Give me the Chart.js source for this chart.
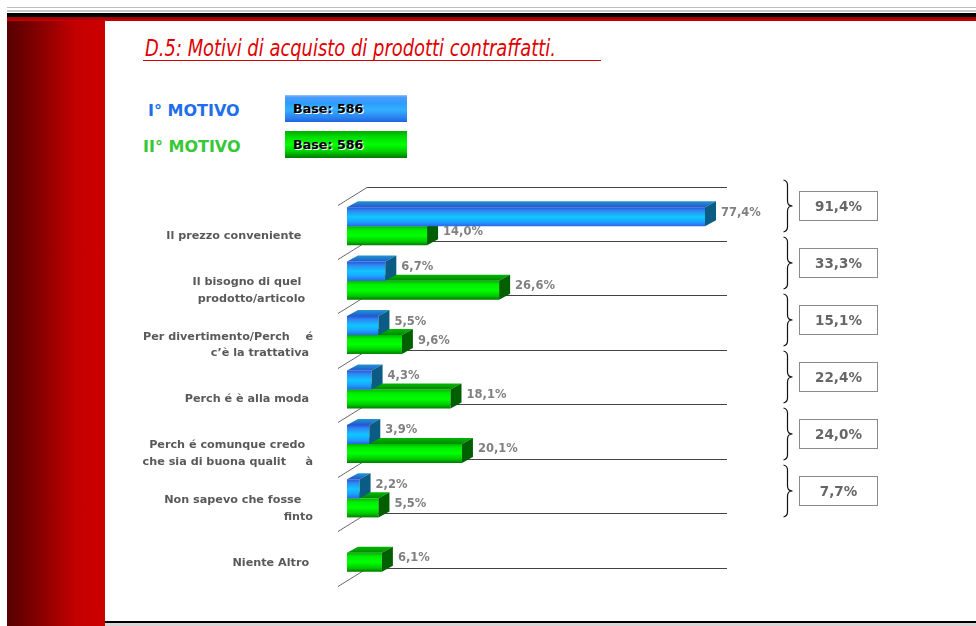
<!DOCTYPE html>
<html lang="it">
<head>
<meta charset="utf-8">
<title>D.5: Motivi di acquisto di prodotti contraffatti</title>
<script src="https://cdn.jsdelivr.net/npm/chart.js@4.4.1/dist/chart.umd.min.js"></script>
<style>
  body { margin: 0; width: 976px; height: 626px; overflow: hidden; background: #fff; position: relative; font-family: "DejaVu Sans", sans-serif; }
  .abs { position: absolute; }
  .fascia { position: absolute; left: 7px; right: 0; }
  #pannello { left: 7px; top: 21px; width: 98px; height: 605px; background: linear-gradient(to right, #560000 0%, #8a0000 35%, #c40000 70%, #cc0000 100%); }
  #titolo { left: 145px; top: 37px; font: italic 23px/23px "DejaVu Sans", sans-serif; color: #e00000; white-space: nowrap; transform-origin: 0 0; }
  #sottolinea { left: 143px; top: 60px; width: 458px; height: 1px; background: #d00000; }
  .motivo { font: bold 16px/16px "DejaVu Sans", sans-serif; white-space: nowrap; }
  .base { width: 122px; height: 27px; box-sizing: border-box; padding-left: 8px; font: bold 12.7px/27px "DejaVu Sans", sans-serif; color: #000; text-shadow: 1px 1px 0 #fff; }
  #baseBlu { left: 285px; top: 95px; background: linear-gradient(#9cc4ff 0%, #4a9cff 8%, #2f9cff 30%, #33b0ff 55%, #2a80f0 85%, #1f62e0 100%); }
  #baseVerde { left: 285px; top: 131px; background: linear-gradient(#00a800 0%, #00d800 20%, #00ff00 50%, #00d000 75%, #007c00 100%); }
  #grafico { position: absolute; left: 0; top: 0; }
</style>
</head>
<body>
<div class="fascia" style="top:7px;height:1px;background:#bdbdbd"></div>
<div class="fascia" style="top:10px;height:2px;background:#c8c8c8"></div>
<div class="fascia" style="top:13px;height:4px;background:#000"></div>
<div class="fascia" style="top:17px;height:4px;background:linear-gradient(#9a0000,#cc0000)"></div>
<div id="pannello" class="abs"></div>
<div class="abs" style="left:105px;top:621px;width:871px;height:2px;background:#000"></div>
<div class="abs" style="left:105px;top:623px;width:871px;height:3px;background:#d6d6d6"></div>

<div id="titolo" class="abs">D.5: Motivi di acquisto di prodotti contraffatti.</div>
<div id="sottolinea" class="abs"></div>

<div class="abs motivo" style="left:148px;top:103px;color:#1f6fea">I° MOTIVO</div>
<div class="abs motivo" style="left:143px;top:139px;color:#36c836">II° MOTIVO</div>
<div id="baseBlu" class="abs base">Base: 586</div>
<div id="baseVerde" class="abs base">Base: 586</div>

<canvas id="grafico" width="976" height="626"></canvas>

<script>
// Dati del grafico
const motivi = [
    "Il prezzo conveniente   ",
    ["Il bisogno di quel   ", "prodotto/articolo  "],
    ["Per divertimento/Perch    é", "c\u2019è la trattativa "],
    "Perch é è alla moda ",
    ["Perch é comunque credo  ", "che sia di buona qualit     à"],
    ["Non sapevo che fosse   ", "finto"],
    "Niente Altro "
];
const primoMotivo = [77.4, 6.7, 5.5, 4.3, 3.9, 2.2, null];
const secondoMotivo = [14.0, 26.6, 9.6, 18.1, 20.1, 5.5, 6.1];
const totali = [91.4, 33.3, 15.1, 22.4, 24.0, 7.7];

const grafico = document.querySelector("#grafico");
const titolo = document.querySelector("#titolo");

// Adattare il titolo alla larghezza originale
titolo.style.transform = `scaleX(${411 / titolo.getBoundingClientRect().width})`;

// Profondità dell'effetto 3D
const PROF_X = 11;
const PROF_Y = 6;

const stopBlu = [[0, "#2556d6"], [0.18, "#2f86f2"], [0.5, "#10c6ff"], [0.75, "#1aa6ff"], [1, "#2c66ea"]];
const stopVerde = [[0, "#00b400"], [0.2, "#00ee00"], [0.5, "#00ff00"], [0.8, "#00c800"], [1, "#007a00"]];

const formato = (v) => v.toFixed(1).replace(".", ",") + "%";

// Gradiente della faccia frontale di ogni barra
const gradiente = (ctx, stops) => {
    const { chart, dataIndex, datasetIndex } = ctx;
    const area = chart.chartArea;
    if (!area || dataIndex === undefined) return stops[2][1];
    const banda = area.height / motivi.length;
    const spessore = banda * 0.7 / 2;
    const centro = chart.scales.y.getPixelForValue(dataIndex);
    const alto = datasetIndex === 0 ? centro - spessore : centro;
    const g = chart.ctx.createLinearGradient(0, alto, 0, alto + spessore);
    stops.forEach(([p, c]) => g.addColorStop(p, c));
    return g;
};

// Plugin per pavimento, facce 3D, etichette e totali
const effetto3d = {
    id: "effetto3d",
    beforeDatasetsDraw(chart) {
        const { ctx, chartArea: a } = chart;
        const banda = a.height / motivi.length;
        ctx.save();
        ctx.lineWidth = 1;
        for (let i = 0; i <= motivi.length; i++) {
            const yf = Math.round(a.top + i * banda + 5.5) + 0.5;
            const yb = yf - 18;
            ctx.strokeStyle = "#6a6a6a";
            ctx.beginPath(); ctx.moveTo(a.left - 9, yf); ctx.lineTo(a.left + 20, yb); ctx.stroke();
            ctx.strokeStyle = "#444";
            ctx.beginPath(); ctx.moveTo(a.left + 20, yb); ctx.lineTo(a.right + 22, yb); ctx.stroke();
        }
        ctx.restore();
    },
    afterDatasetDraw(chart, args) {
        const { ctx, chartArea: a } = chart;
        const blu = args.index === 0;
        const valori = chart.data.datasets[args.index].data;
        ctx.save();
        args.meta.data.forEach((bar, i) => {
            if (valori[i] == null) return;
            const { x, y, base, height } = bar.getProps(["x", "y", "base", "height"], true);
            const x1 = Math.min(x, a.right);
            const top = y - height / 2;
            const bot = y + height / 2;
            // Faccia superiore
            const gTop = ctx.createLinearGradient(0, top - PROF_Y, 0, top);
            gTop.addColorStop(0, blu ? "#1e98cc" : "#00b800");
            gTop.addColorStop(1, blu ? "#2456d2" : "#008800");
            ctx.fillStyle = gTop;
            ctx.beginPath();
            ctx.moveTo(base, top);
            ctx.lineTo(base + PROF_X, top - PROF_Y);
            ctx.lineTo(x1 + PROF_X, top - PROF_Y);
            ctx.lineTo(x1, top);
            ctx.closePath();
            ctx.fill();
            // Faccia laterale
            ctx.fillStyle = blu ? "#0b5c84" : "#006000";
            ctx.beginPath();
            ctx.moveTo(x1, top);
            ctx.lineTo(x1 + PROF_X, top - PROF_Y);
            ctx.lineTo(x1 + PROF_X, bot - PROF_Y);
            ctx.lineTo(x1, bot);
            ctx.closePath();
            ctx.fill();
        });
        ctx.restore();
    },
    afterDatasetsDraw(chart) {
        const { ctx, chartArea: a } = chart;
        ctx.save();
        ctx.font = "bold 11.5px 'DejaVu Sans'";
        ctx.fillStyle = "#808080";
        ctx.textBaseline = "middle";
        ctx.textAlign = "left";
        chart.data.datasets.forEach((ds, d) => {
            chart.getDatasetMeta(d).data.forEach((bar, i) => {
                if (ds.data[i] == null) return;
                const x1 = Math.min(bar.x, a.right);
                ctx.fillText(formato(ds.data[i]), x1 + PROF_X + 5, bar.y - 4);
            });
        });
        ctx.restore();
    },
    afterDraw(chart) {
        const { ctx, chartArea: a } = chart;
        const bx = a.right + 82.5;
        const h = 26;
        ctx.save();
        totali.forEach((t, i) => {
            const yc = Math.round(a.top + 6.5 + i * 57);
            // Parentesi graffa
            ctx.strokeStyle = "#111";
            ctx.lineWidth = 1.2;
            ctx.beginPath();
            ctx.moveTo(bx - 4, yc - h);
            ctx.quadraticCurveTo(bx, yc - h + 1, bx, yc - h + 5);
            ctx.lineTo(bx, yc - 5);
            ctx.quadraticCurveTo(bx, yc, bx + 5, yc);
            ctx.quadraticCurveTo(bx, yc, bx, yc + 5);
            ctx.lineTo(bx, yc + h - 5);
            ctx.quadraticCurveTo(bx, yc + h - 1, bx - 4, yc + h);
            ctx.stroke();
            // Riquadro del totale
            ctx.fillStyle = "#fff";
            ctx.fillRect(bx + 12, yc - 14.5, 78, 29);
            ctx.strokeStyle = "#8a8a8a";
            ctx.lineWidth = 1;
            ctx.strokeRect(bx + 12, yc - 14.5, 78, 29);
            ctx.fillStyle = "#666";
            ctx.font = "bold 13.5px 'DejaVu Sans'";
            ctx.textAlign = "center";
            ctx.textBaseline = "middle";
            ctx.fillText(formato(t), bx + 51, yc + 1);
        });
        ctx.restore();
    }
};

// Creare il grafico
const miGrafico = new Chart(grafico, {
    type: "bar",
    data: {
        labels: motivi,
        datasets: [
            { label: "I° MOTIVO", data: primoMotivo, backgroundColor: (c) => gradiente(c, stopBlu), borderWidth: 0 },
            { label: "II° MOTIVO", data: secondoMotivo, backgroundColor: (c) => gradiente(c, stopVerde), borderWidth: 0 }
        ]
    },
    options: {
        indexAxis: "y",
        responsive: false,
        animation: false,
        devicePixelRatio: 1,
        barPercentage: 1,
        categoryPercentage: 0.7,
        layout: { padding: { left: 105, right: 271, top: 199, bottom: 46 } },
        plugins: { legend: { display: false }, tooltip: { enabled: false } },
        scales: {
            x: { display: false, min: 0, max: 62.6 },
            y: {
                grid: { display: false, drawTicks: false },
                border: { display: false },
                ticks: {
                    color: "#595959",
                    font: { family: "DejaVu Sans", size: 11.2, weight: "bold", lineHeight: 1.5 },
                    padding: 34,
                    labelOffset: 10,
                    autoSkip: false
                },
                afterFit: (s) => { s.width = 242; }
            }
        }
    },
    plugins: [effetto3d]
});
</script>
</body>
</html>
